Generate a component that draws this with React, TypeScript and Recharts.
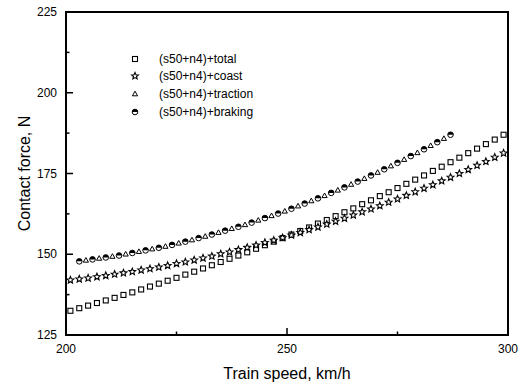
import { ScatterChart, Scatter, XAxis, YAxis, Legend, ReferenceArea } from 'recharts'

const FONT = '"Liberation Sans", Arial, Helvetica, sans-serif'
const INK = '#000'

// speeds (km/h) where each case was sampled
const cruiseSpeeds = [
  201, 203, 205, 207, 209, 211, 213, 215, 217, 219, 221, 223, 225, 227, 229, 231, 233,
  235, 237, 239, 241, 243, 245, 247, 249, 251, 253, 255, 257, 259, 261, 263, 265, 267,
  269, 271, 273, 275, 277, 279, 281, 283, 285, 287, 289, 291, 293, 295, 297, 299,
]
const brakingSpeeds = [
  203, 206, 209, 212, 215, 218, 221, 224, 227, 230, 233, 236, 239, 242, 245, 248, 251,
  254, 257, 260, 263, 266, 269, 272, 275, 278, 281, 284, 287,
]
const tractionSpeeds = [
  204.5, 207.5, 210.5, 213.5, 216.5, 219.5, 222.5, 225.5, 228.5, 231.5, 234.5, 237.5,
  240.5, 243.5, 246.5, 249.5, 252.5, 255.5, 258.5, 261.5, 264.5, 267.5, 270.5, 273.5,
  276.5, 279.5, 282.5, 285.5,
]

// mean contact force (N)
const totalForce = [
  132.5, 133.3, 134.1, 134.9, 135.7, 136.5, 137.4, 138.2, 139.1, 140.0, 140.9, 141.8,
  142.7, 143.7, 144.6, 145.6, 146.6, 147.6, 148.6, 149.6, 150.6, 151.7, 152.8, 153.9,
  155.0, 156.1, 157.2, 158.3, 159.5, 160.6, 161.8, 163.0, 164.2, 165.5, 166.7, 168.0,
  169.2, 170.5, 171.8, 173.1, 174.4, 175.8, 177.1, 178.5, 179.9, 181.3, 182.7, 184.1,
  185.5, 187.0,
]
const coastForce = [
  142.0, 142.3, 142.6, 143.0, 143.4, 143.8, 144.2, 144.6, 145.1, 145.5, 146.0, 146.5,
  147.1, 147.6, 148.2, 148.8, 149.4, 150.1, 150.7, 151.4, 152.1, 152.8, 153.6, 154.3,
  155.1, 155.9, 156.7, 157.6, 158.4, 159.3, 160.2, 161.1, 162.1, 163.1, 164.0, 165.0,
  166.1, 167.1, 168.2, 169.3, 170.4, 171.5, 172.7, 173.8, 175.0, 176.2, 177.5, 178.7,
  180.0, 181.3,
]
const brakingForce = [
  147.8, 148.4, 149.0, 149.6, 150.4, 151.2, 152.0, 152.9, 153.9, 155.0, 156.1, 157.3,
  158.5, 159.8, 161.2, 162.6, 164.1, 165.7, 167.3, 169.0, 170.7, 172.5, 174.4, 176.3,
  178.3, 180.4, 182.5, 184.7, 187.0,
]
const tractionForce = [
  148.1, 148.7, 149.3, 150.0, 150.8, 151.6, 152.4, 153.4, 154.4, 155.5, 156.7, 157.9,
  159.1, 160.5, 161.9, 163.3, 164.9, 166.5, 168.1, 169.8, 171.6, 173.4, 175.3, 177.3,
  179.3, 181.4, 183.6, 185.8,
]

const xTicks = [200, 225, 250, 275, 300]
const yTicks = [125, 137.5, 150, 162.5, 175, 187.5, 200, 212.5, 225]

const toPoints = (xs: number[], ys: number[]) => xs.map((x, i) => ({ x, y: ys[i] }))

type Pt = { cx?: number; cy?: number }

const SquareMark = ({ cx = 0, cy = 0 }: Pt) => (
  <rect x={cx - 2.5} y={cy - 2.5} width={5} height={5} fill="#fff" stroke={INK} strokeWidth={1.1} />
)

const starPath = (cx: number, cy: number, r: number) => {
  const pts: string[] = []
  for (let i = 0; i < 10; i++) {
    const rad = i % 2 === 0 ? r : r * 0.45
    const a = -Math.PI / 2 + (i * Math.PI) / 5
    pts.push(`${(cx + rad * Math.cos(a)).toFixed(2)},${(cy + rad * Math.sin(a)).toFixed(2)}`)
  }
  return pts.join(' ')
}

const StarMark = ({ cx = 0, cy = 0 }: Pt) => (
  <polygon points={starPath(cx, cy, 3.6)} fill="#fff" stroke={INK} strokeWidth={1.1} />
)

const TriangleMark = ({ cx = 0, cy = 0 }: Pt) => (
  <polygon
    points={`${cx},${cy - 2.8} ${cx + 2.6},${cy + 1.8} ${cx - 2.6},${cy + 1.8}`}
    fill="#fff"
    stroke={INK}
    strokeWidth={1}
  />
)

const HalfCircleMark = ({ cx = 0, cy = 0 }: Pt) => (
  <g>
    <circle cx={cx} cy={cy} r={2.8} fill="#fff" stroke={INK} strokeWidth={1} />
    <path d={`M${cx - 2.8},${cy} A2.8,2.8 0 0 1 ${cx + 2.8},${cy} Z`} fill={INK} />
  </g>
)

const series = [
  { name: '(s50+n4)+total', data: toPoints(cruiseSpeeds, totalForce), Mark: SquareMark },
  { name: '(s50+n4)+coast', data: toPoints(cruiseSpeeds, coastForce), Mark: StarMark },
  { name: '(s50+n4)+traction', data: toPoints(tractionSpeeds, tractionForce), Mark: TriangleMark },
  { name: '(s50+n4)+braking', data: toPoints(brakingSpeeds, brakingForce), Mark: HalfCircleMark },
]

// inward ticks: long at labelled values, short in between
const XTick = ({ x, y, payload }: any) => {
  const major = payload.value % 50 === 0
  const len = major ? 7 : 3.5
  const base = Number(y) - 4
  return (
    <g>
      <rect x={Number(x) - 0.75} y={base - len} width={1.5} height={len} fill={INK} />
      {major && (
        <text x={x} y={Number(y) + 14} textAnchor="middle" fontSize={12} fontFamily={FONT} fill={INK}>
          {payload.value}
        </text>
      )}
    </g>
  )
}

const YTick = ({ x, y, payload }: any) => {
  const major = payload.value % 25 === 0
  const len = major ? 7 : 3.5
  const base = Number(x) + 9
  return (
    <g>
      <rect x={base} y={Number(y) - 0.75} width={len} height={1.5} fill={INK} />
      {major && (
        <text x={x} y={Number(y) + 4} textAnchor="end" fontSize={12} fontFamily={FONT} fill={INK}>
          {payload.value}
        </text>
      )}
    </g>
  )
}

const XTitle = ({ viewBox }: any) => (
  <text
    x={viewBox.x + viewBox.width / 2}
    y={viewBox.y + 44}
    textAnchor="middle"
    fontSize={16}
    fontFamily={FONT}
    fill={INK}
  >
    Train speed, km/h
  </text>
)

const YTitle = ({ viewBox }: any) => {
  const cx = 30
  const cy = viewBox.y + viewBox.height / 2
  return (
    <text
      x={cx}
      y={cy}
      transform={`rotate(-90 ${cx} ${cy})`}
      textAnchor="middle"
      fontSize={16}
      fontFamily={FONT}
      fill={INK}
    >
      Contact force, N
    </text>
  )
}

const LegendBox = () => (
  <div style={{ fontFamily: FONT, fontSize: 12, color: INK }}>
    {series.map(({ name, Mark }) => (
      <div key={name} style={{ display: 'flex', alignItems: 'center', height: 17.6 }}>
        <svg width={14} height={12}>
          <Mark cx={7} cy={6} />
        </svg>
        <span style={{ marginLeft: 17, lineHeight: '12px' }}>{name}</span>
      </div>
    ))}
  </div>
)

export default function App() {
  return (
    <div style={{ position: 'absolute', left: 0, top: 0, background: '#fff' }}>
      <ScatterChart width={525} height={384} margin={{ top: 12, right: 17, bottom: 0, left: 0 }}>
        <XAxis
          type="number"
          dataKey="x"
          domain={[200, 300]}
          ticks={xTicks}
          interval={0}
          height={49}
          tickSize={0}
          tickMargin={4}
          tick={<XTick />}
          axisLine={false}
          label={{ content: <XTitle /> }}
        />
        <YAxis
          type="number"
          dataKey="y"
          domain={[125, 225]}
          ticks={yTicks}
          interval={0}
          width={66}
          tickSize={0}
          tickMargin={9}
          tick={<YTick />}
          axisLine={false}
          label={{ content: <YTitle /> }}
        />
        {/* plot frame */}
        <ReferenceArea
          x1={200}
          x2={300}
          y1={125}
          y2={225}
          fill="none"
          stroke={INK}
          strokeWidth={2}
          ifOverflow="visible"
        />
        <Legend
          layout="vertical"
          align="center"
          verticalAlign="middle"
          content={<LegendBox />}
          wrapperStyle={{ position: 'absolute', left: 128, top: 50, width: 160 }}
        />
        {series.map(({ name, data, Mark }) => (
          <Scatter
            key={name}
            name={name}
            data={data}
            isAnimationActive={false}
            shape={(p: any) => <Mark cx={p.cx} cy={p.cy} />}
          />
        ))}
      </ScatterChart>
    </div>
  )
}
